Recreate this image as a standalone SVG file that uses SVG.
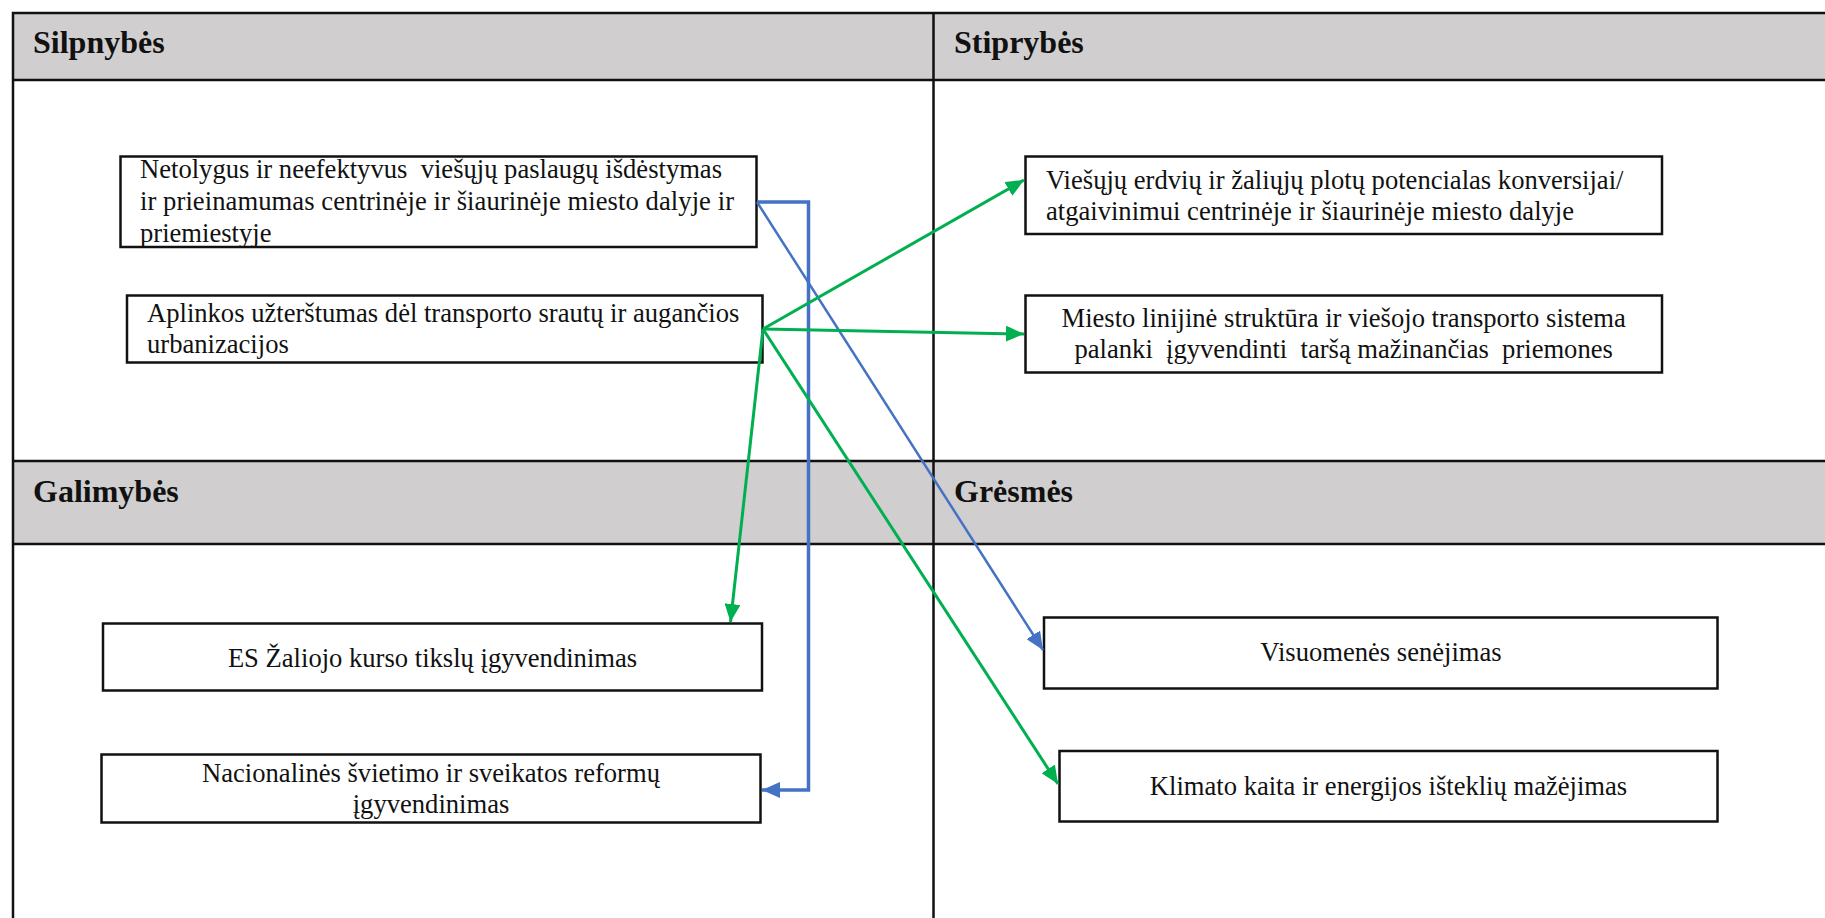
<svg xmlns="http://www.w3.org/2000/svg" width="1825" height="918" viewBox="0 0 1825 918">
<defs>
<style>
.hdr{fill:#D0CECE;stroke:none}
.grid{stroke:#111;stroke-width:2.5;fill:none}
.box{fill:#fff;stroke:#111;stroke-width:2.5}
.ht{font-family:"Liberation Serif","Times New Roman",serif;font-weight:bold;font-size:32px;fill:#111}
.bt{font-family:"Liberation Serif","Times New Roman",serif;font-size:26.6px;fill:#111;white-space:pre}
.c{text-anchor:middle}
.g{stroke:#00B050;stroke-width:3;fill:none}
.b{stroke:#4472C4;stroke-width:2.5;fill:none}
.bb{stroke:#4472C4;stroke-width:3.5;fill:none}
</style>
<marker id="ag" markerUnits="userSpaceOnUse" markerWidth="20" markerHeight="16" refX="18" refY="8" orient="auto" viewBox="0 0 20 16">
<path d="M0,0 L18,8 L0,16 Z" fill="#00B050"/>
</marker>
<marker id="ab" markerUnits="userSpaceOnUse" markerWidth="20" markerHeight="16" refX="18" refY="8" orient="auto" viewBox="0 0 20 16">
<path d="M0,0 L18,8 L0,16 Z" fill="#4472C4"/>
</marker>
</defs>
<rect width="1825" height="918" fill="#fff"/>
<g id="table">
<rect class="hdr" x="13" y="13" width="1812" height="67"/>
<rect class="hdr" x="13" y="461" width="1812" height="83"/>
<path class="grid" d="M13,918 V13 H1825 M13,80 H1825 M13,461 H1825 M13,544 H1825 M933.5,13 V918"/>
<text class="ht" x="33" y="53">Silpnybės</text>
<text class="ht" x="954" y="53">Stiprybės</text>
<text class="ht" x="33" y="502">Galimybės</text>
<text class="ht" x="954" y="502">Grėsmės</text>
</g>
<g id="w1">
<rect class="box" x="120.5" y="156.5" width="636" height="90.5"/>
<text class="bt" x="140" y="178">Netolygus ir neefektyvus  viešųjų paslaugų išdėstymas</text>
<text class="bt" x="140" y="210" textLength="594" lengthAdjust="spacing">ir prieinamumas centrinėje ir šiaurinėje miesto dalyje ir</text>
<text class="bt" x="140" y="242">priemiestyje</text>
</g>
<g id="w2">
<rect class="box" x="127" y="295.5" width="635.5" height="67"/>
<text class="bt" x="147" y="322">Aplinkos užterštumas dėl transporto srautų ir augančios</text>
<text class="bt" x="147" y="353">urbanizacijos</text>
</g>
<g id="s1">
<rect class="box" x="1025.5" y="156.5" width="636.5" height="77.5"/>
<text class="bt" x="1046" y="189">Viešųjų erdvių ir žaliųjų plotų potencialas konversijai/</text>
<text class="bt" x="1046" y="220">atgaivinimui centrinėje ir šiaurinėje miesto dalyje</text>
</g>
<g id="s2">
<rect class="box" x="1025.5" y="295.5" width="636.5" height="77"/>
<text class="bt c" x="1343.7" y="327">Miesto linijinė struktūra ir viešojo transporto sistema</text>
<text class="bt c" x="1343.7" y="358">palanki  įgyvendinti  taršą mažinančias  priemones</text>
</g>
<g id="g1">
<rect class="box" x="103" y="623.5" width="659" height="67"/>
<text class="bt c" x="432.5" y="667">ES Žaliojo kurso tikslų įgyvendinimas</text>
</g>
<g id="g2">
<rect class="box" x="101.5" y="754.5" width="659" height="68"/>
<text class="bt c" x="431" y="782">Nacionalinės švietimo ir sveikatos reformų</text>
<text class="bt c" x="431" y="813">įgyvendinimas</text>
</g>
<g id="t1">
<rect class="box" x="1044" y="617.5" width="673.5" height="71"/>
<text class="bt c" x="1381" y="661">Visuomenės senėjimas</text>
</g>
<g id="t2">
<rect class="box" x="1059.5" y="751" width="658" height="70.5"/>
<text class="bt c" x="1388.5" y="795">Klimato kaita ir energijos išteklių mažėjimas</text>
</g>
<g id="connectors">
<path class="bb" d="M757,202 H808.5 V790 H762" marker-end="url(#ab)"/>
<path class="b" d="M757,202 L1043,650" marker-end="url(#ab)"/>
<path class="g" d="M763,329 L1024,180" marker-end="url(#ag)"/>
<path class="g" d="M763,329 L1024,334" marker-end="url(#ag)"/>
<path class="g" d="M763,329 L730.5,622" marker-end="url(#ag)"/>
<path class="g" d="M763,329 L1058,784" marker-end="url(#ag)"/>
</g>
</svg>
